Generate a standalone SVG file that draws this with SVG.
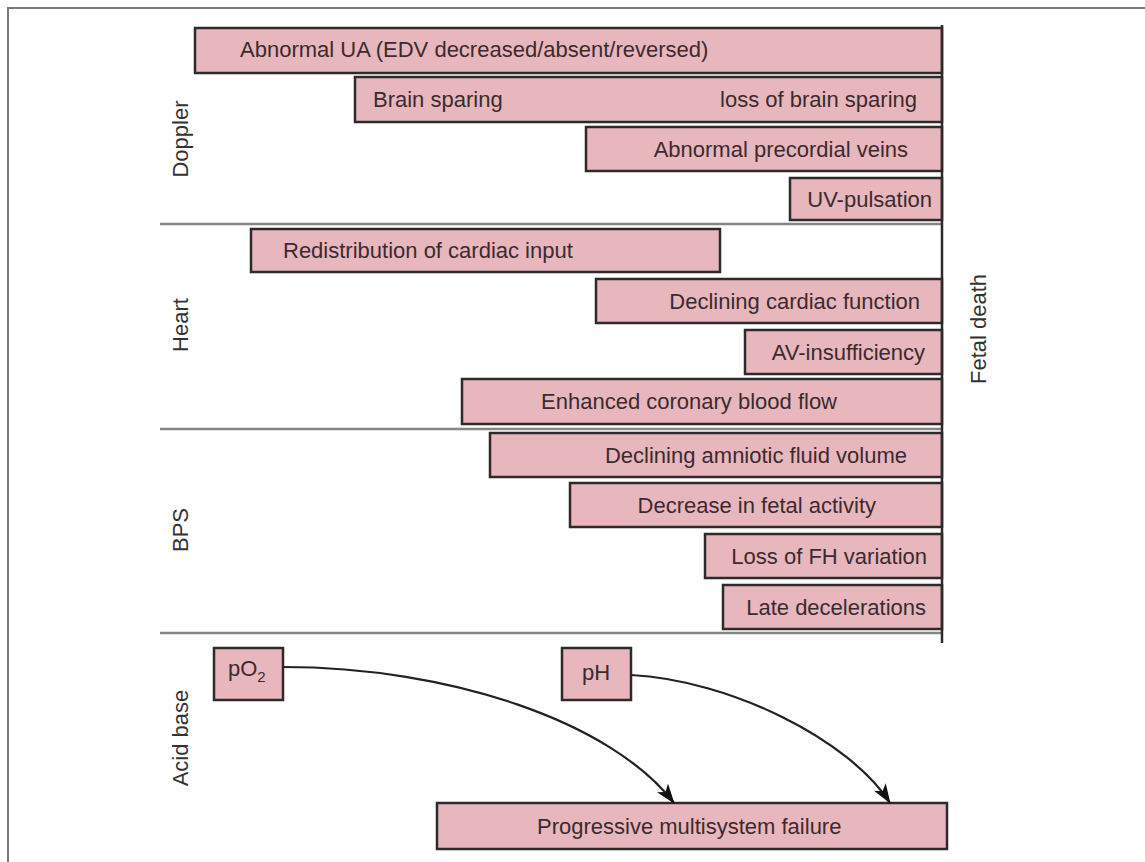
<svg xmlns="http://www.w3.org/2000/svg" width="1145" height="862" viewBox="0 0 1145 862">
  <style>
    .bar { fill: #e8b6bd; stroke: #2e2a2b; stroke-width: 2.5; }
    .lbl { font-family: "Liberation Sans", Arial, sans-serif; font-size: 22px; fill: #3b2b2f; }
    .sec { font-family: "Liberation Sans", Arial, sans-serif; font-size: 22px; fill: #333; text-anchor: middle; }
    .div { stroke: #858585; stroke-width: 2.5; fill: none; }
    .end { text-anchor: end; }
    .conn { fill: none; stroke: #222; stroke-width: 2.2; }
  </style>
  <defs>
    <marker id="arrow" viewBox="0 0 20 14" refX="19" refY="7" markerWidth="20" markerHeight="14" markerUnits="userSpaceOnUse" orient="auto">
      <path d="M0,0 L20,7 L0,14 L5,7 Z" fill="#111"/>
    </marker>
  </defs>

  <rect width="1145" height="862" fill="#fff"/>
  <!-- outer frame (top and left edges) -->
  <path d="M8,862 V8 H1145" fill="none" stroke="#7a7a7a" stroke-width="2"/>

  <!-- section dividers -->
  <g id="dividers">
    <line class="div" x1="160" y1="224" x2="942" y2="224"/>
    <line class="div" x1="160" y1="429" x2="942" y2="429"/>
    <line class="div" x1="160" y1="633" x2="942" y2="633"/>
  </g>

  <!-- section labels -->
  <g id="sections">
    <text class="sec" transform="translate(188,139) rotate(-90)">Doppler</text>
    <text class="sec" transform="translate(188,325) rotate(-90)">Heart</text>
    <text class="sec" transform="translate(188,530) rotate(-90)">BPS</text>
    <text class="sec" transform="translate(188,738) rotate(-90)">Acid base</text>
    <text class="sec" transform="translate(986,329) rotate(-90)">Fetal death</text>
  </g>

  <!-- Doppler -->
  <g id="ua">
    <rect class="bar" x="195" y="28" width="747" height="45"/>
    <text class="lbl" x="240" y="57">Abnormal UA (EDV decreased/absent/reversed)</text>
  </g>
  <g id="brain">
    <rect class="bar" x="355" y="77" width="587" height="45"/>
    <text class="lbl" x="373" y="107">Brain sparing</text>
    <text class="lbl end" x="917" y="107">loss of brain sparing</text>
  </g>
  <g id="precordial">
    <rect class="bar" x="586" y="127" width="356" height="44"/>
    <text class="lbl end" x="908" y="157">Abnormal precordial veins</text>
  </g>
  <g id="uv">
    <rect class="bar" x="790" y="178" width="152" height="42"/>
    <text class="lbl end" x="932" y="207">UV-pulsation</text>
  </g>

  <!-- Heart -->
  <g id="redistribution">
    <rect class="bar" x="251" y="229" width="469" height="43"/>
    <text class="lbl" x="283" y="258">Redistribution of cardiac input</text>
  </g>
  <g id="cardiac">
    <rect class="bar" x="596" y="279" width="346" height="44"/>
    <text class="lbl end" x="920" y="309">Declining cardiac function</text>
  </g>
  <g id="av">
    <rect class="bar" x="745" y="330" width="197" height="44"/>
    <text class="lbl end" x="925" y="360">AV-insufficiency</text>
  </g>
  <g id="coronary">
    <rect class="bar" x="462" y="379" width="480" height="45"/>
    <text class="lbl end" x="837" y="409">Enhanced coronary blood flow</text>
  </g>

  <!-- BPS -->
  <g id="amniotic">
    <rect class="bar" x="490" y="433" width="452" height="44"/>
    <text class="lbl end" x="907" y="463">Declining amniotic fluid volume</text>
  </g>
  <g id="activity">
    <rect class="bar" x="570" y="483" width="372" height="44"/>
    <text class="lbl end" x="876" y="513">Decrease in fetal activity</text>
  </g>
  <g id="fh">
    <rect class="bar" x="705" y="534" width="237" height="44"/>
    <text class="lbl end" x="927" y="564">Loss of FH variation</text>
  </g>
  <g id="late">
    <rect class="bar" x="723" y="585" width="219" height="44"/>
    <text class="lbl end" x="926" y="615">Late decelerations</text>
  </g>

  <!-- fetal death boundary -->
  <line x1="942" y1="25" x2="942" y2="643" stroke="#2e2a2b" stroke-width="2.5"/>

  <!-- Acid base -->
  <g id="po2">
    <rect class="bar" x="214" y="648" width="69" height="52"/>
    <text class="lbl" x="228" y="676">pO<tspan font-size="15" dy="6">2</tspan></text>
  </g>
  <g id="ph">
    <rect class="bar" x="562" y="648" width="69" height="52"/>
    <text class="lbl" x="582" y="680">pH</text>
  </g>
  <g id="failure">
    <rect class="bar" x="437" y="803" width="510" height="46"/>
    <text class="lbl" x="537" y="834">Progressive multisystem failure</text>
  </g>

  <g id="connectors">
    <path class="conn" d="M283,667 C450,667 612,722 674,803" marker-end="url(#arrow)"/>
    <path class="conn" d="M631,675 C730,680 850,740 890,803" marker-end="url(#arrow)"/>
  </g>
</svg>
